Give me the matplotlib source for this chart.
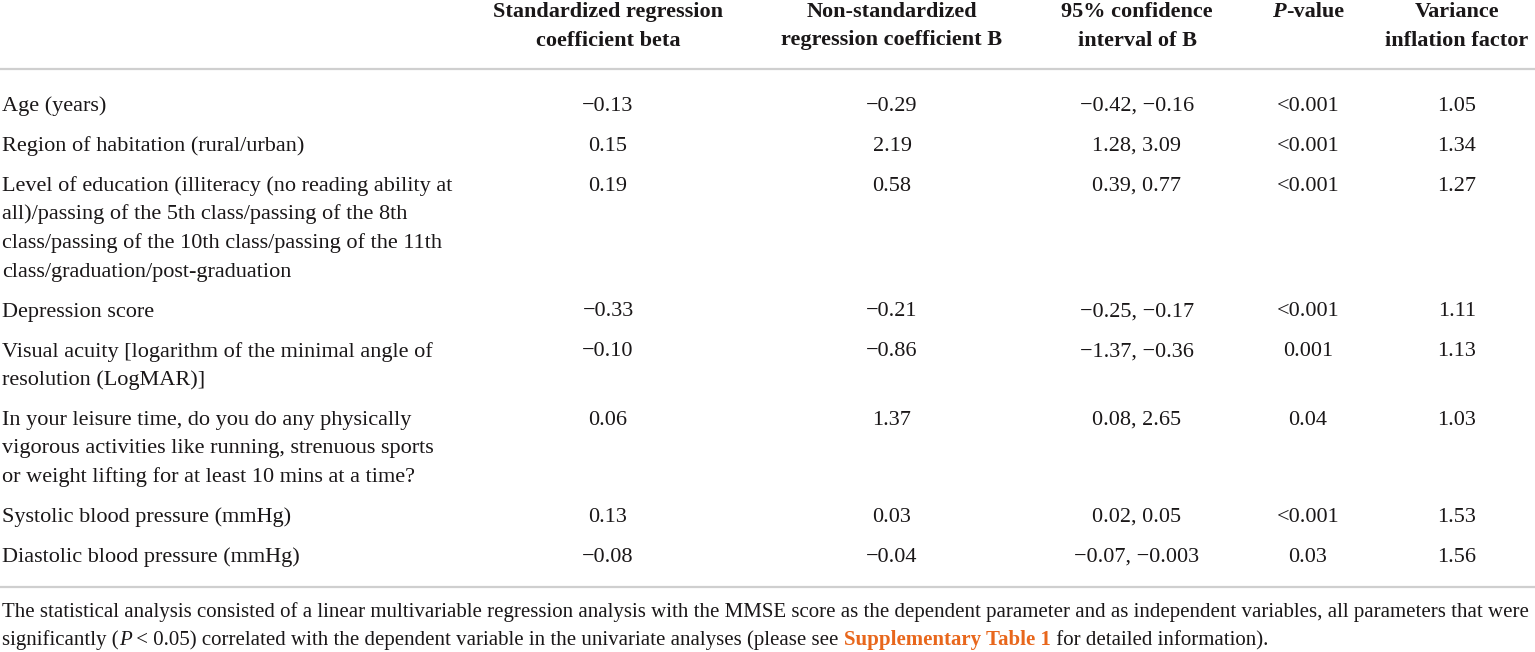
import matplotlib
matplotlib.use("Agg")
import matplotlib.pyplot as plt

plt.rcParams["font.family"] = ["Liberation Serif", "DejaVu Serif"]

headers = [
    ["Standardized regression", "coefficient beta"],
    ["Non-standardized", "regression coefficient B"],
    ["95% confidence", "interval of B"],
    ["P-value"],
    ["Variance", "inflation factor"],
]

variables = [
    ["Age (years)"],
    ["Region of habitation (rural/urban)"],
    ["Level of education (illiteracy (no reading ability at",
     "all)/passing of the 5th class/passing of the 8th",
     "class/passing of the 10th class/passing of the 11th",
     "class/graduation/post-graduation"],
    ["Depression score"],
    ["Visual acuity [logarithm of the minimal angle of",
     "resolution (LogMAR)]"],
    ["In your leisure time, do you do any physically",
     "vigorous activities like running, strenuous sports",
     "or weight lifting for at least 10 mins at a time?"],
    ["Systolic blood pressure (mmHg)"],
    ["Diastolic blood pressure (mmHg)"],
]

beta = ["\u22120.13", "0.15", "0.19", "\u22120.33", "\u22120.10", "0.06", "0.13", "\u22120.08"]
coef_b = ["\u22120.29", "2.19", "0.58", "\u22120.21", "\u22120.86", "1.37", "0.03", "\u22120.04"]
ci_b = ["\u22120.42, \u22120.16", "1.28, 3.09", "0.39, 0.77", "\u22120.25, \u22120.17",
        "\u22121.37, \u22120.36", "0.08, 2.65", "0.02, 0.05", "\u22120.07, \u22120.003"]
p_value = ["<0.001", "<0.001", "<0.001", "<0.001", "0.001", "0.04", "<0.001", "0.03"]
vif = ["1.05", "1.34", "1.27", "1.11", "1.13", "1.03", "1.53", "1.56"]

footnote_1 = ("The statistical analysis consisted of a linear multivariable regression analysis "
              "with the MMSE score as the dependent parameter and as independent variables, "
              "all parameters that were")
footnote_2 = [
    ("significantly (", {}),
    ("P", {"style": "italic"}),
    (" < 0.05) correlated with the dependent variable in the univariate analyses (please see ", {}),
    ("Supplementary Table 1", {"weight": "bold", "color": "#e8671c"}),
    (" for detailed information).", {}),
]

W, H = 1535, 652
fig = plt.figure(figsize=(W / 100, H / 100), dpi=100)
ax = fig.add_axes([0, 0, 1, 1])
ax.set_xlim(0, W)
ax.set_ylim(H, 0)
ax.axis("off")
renderer = fig.canvas.get_renderer()

BODY = 16
NOTE = 15
TXT = "#1a1718"
col_x = [608, 892, 1137, 1308, 1457]
line_h = 28.5


def draw_runs(x, y, runs, size, ha="left", base=None):
    base = base or {}
    pieces = []
    for s, props in runs:
        kw = dict(base)
        kw.update(props)
        kw.setdefault("color", TXT)
        t = ax.text(0, y, s, fontsize=size, va="baseline", ha="left", **kw)
        w = t.get_window_extent(renderer=renderer).width
        pieces.append((t, w))
    total = sum(w for _, w in pieces)
    cur = x - total / 2 if ha == "center" else x
    for t, w in pieces:
        t.set_x(cur)
        cur += w


# header
for cx, lines in zip(col_x, headers):
    for i, line in enumerate(lines):
        y = 17 + i * line_h
        if line == "P-value":
            draw_runs(cx, y, [("P", {"style": "italic"}), ("-value", {})], BODY,
                      ha="center", base={"weight": "bold"})
        else:
            ax.text(cx, y, line, fontsize=BODY, weight="bold", ha="center",
                    va="baseline", color=TXT)

ax.axhline(69, color="#cfcfcf", lw=1.6)

# body rows
y = 111
for i, lines in enumerate(variables):
    for j, line in enumerate(lines):
        ax.text(2, y + j * line_h, line, fontsize=BODY, ha="left", va="baseline", color=TXT)
    for cx, vals in zip(col_x, [beta, coef_b, ci_b, p_value, vif]):
        ax.text(cx, y, vals[i], fontsize=BODY, ha="center", va="baseline", color=TXT)
    y += (len(lines) - 1) * line_h + 40

ax.axhline(587, color="#cfcfcf", lw=1.6)

# footnote
ax.text(2, 617, footnote_1, fontsize=NOTE, ha="left", va="baseline", color=TXT)
draw_runs(2, 645, footnote_2, NOTE)

fig.savefig("out.png", dpi=100)
